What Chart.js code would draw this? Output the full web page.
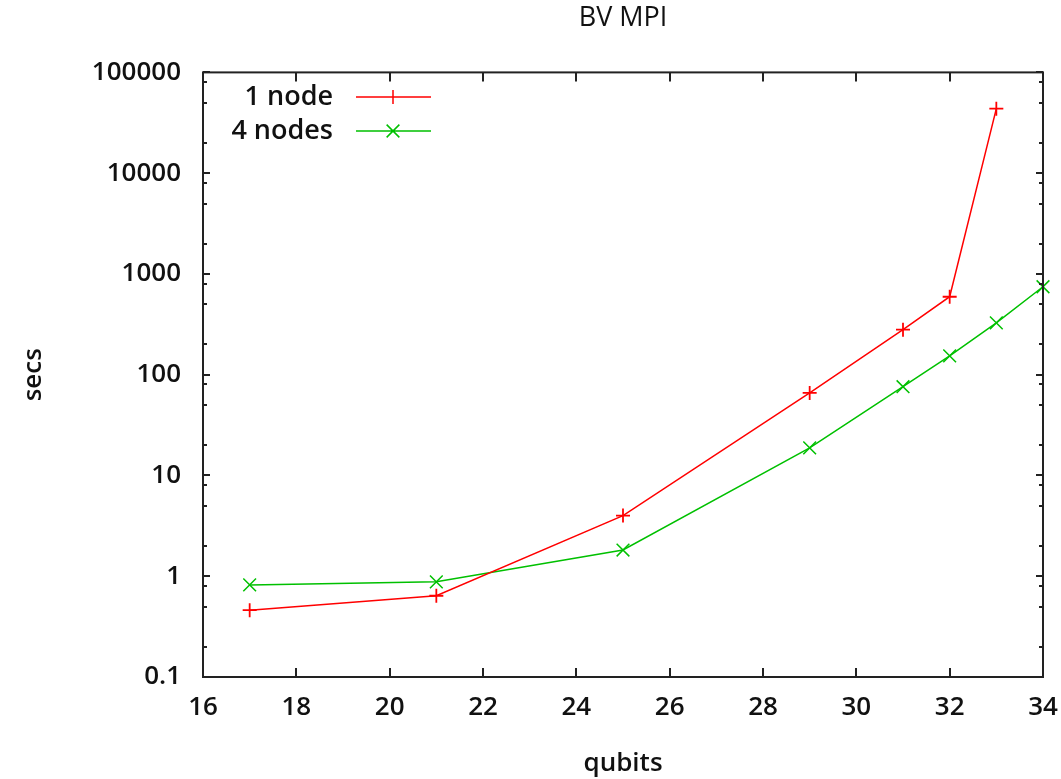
<!DOCTYPE html>
<html>
<head>
<meta charset="utf-8">
<script src="https://cdn.jsdelivr.net/npm/chart.js@4/dist/chart.umd.min.js"></script>
<style>
  html, body { margin: 0; padding: 0; background: #fff; }
  #wrap { width: 1061px; height: 779px; }
</style>
</head>
<body>
<div id="wrap"><canvas id="chart" width="1061" height="779"></canvas></div>
<script>
const qubits = [17, 21, 25, 29, 31, 32, 33, 34];
const oneNodeSecs = [0.46, 0.64, 4.0, 66, 280, 594, 43700];
const fourNodeSecs = [0.82, 0.88, 1.82, 18.8, 76, 154, 327, 746];
const seriesNames = ["1 node", "4 nodes"];
const xTicks = [16, 18, 20, 22, 24, 26, 28, 30, 32, 34];
const yTicks = [0.1, 1, 10, 100, 1000, 10000, 100000];
const yMinorSteps = [2, 5, 8];

const RED = "#ff0000";
const GREEN = "#00c000";
const INK = "#222";
const FONT = "'Open Sans', 'DejaVu Sans', sans-serif";

Chart.defaults.font.family = FONT;
Chart.defaults.color = "#111";

function points(ys) {
  return ys.map((v, i) => ({ x: qubits[i], y: v }));
}

// gnuplot-like border, mirrored inward ticks and key
const frame = {
  id: "frame",
  afterDraw(chart) {
    const { ctx, chartArea: a, scales: { x, y } } = chart;
    ctx.save();
    ctx.strokeStyle = INK;
    ctx.lineWidth = 2;
    ctx.beginPath();
    xTicks.forEach((v) => {
      const px = Math.round(x.getPixelForValue(v));
      ctx.moveTo(px, a.bottom); ctx.lineTo(px, a.bottom - 9);
      ctx.moveTo(px, a.top); ctx.lineTo(px, a.top + 9);
    });
    yTicks.forEach((d) => {
      const py = Math.round(y.getPixelForValue(d));
      ctx.moveTo(a.left, py); ctx.lineTo(a.left + 7, py);
      ctx.moveTo(a.right, py); ctx.lineTo(a.right - 7, py);
      yMinorSteps.forEach((m) => {
        const v = d * m;
        if (v > y.max) return;
        const pm = Math.round(y.getPixelForValue(v));
        ctx.moveTo(a.left, pm); ctx.lineTo(a.left + 4, pm);
        ctx.moveTo(a.right, pm); ctx.lineTo(a.right - 4, pm);
      });
    });
    ctx.stroke();
    ctx.strokeRect(a.left, a.top, a.width, a.height);

    // key
    ctx.font = "600 27px " + FONT;
    ctx.textAlign = "right";
    ctx.textBaseline = "alphabetic";
    chart.data.datasets.forEach((ds, i) => {
      const ly = 97 + i * 34;
      ctx.fillStyle = "#111";
      ctx.fillText(ds.label, 333, ly + 8);
      ctx.strokeStyle = ds.borderColor;
      ctx.lineWidth = 1.5;
      ctx.beginPath();
      ctx.moveTo(356, ly); ctx.lineTo(431, ly);
      const r = ds.pointRadius;
      if (ds.pointStyle === "cross") {
        ctx.moveTo(393 - r, ly); ctx.lineTo(393 + r, ly);
        ctx.moveTo(393, ly - r); ctx.lineTo(393, ly + r);
      } else {
        const o = r * Math.SQRT1_2;
        ctx.moveTo(393 - o, ly - o); ctx.lineTo(393 + o, ly + o);
        ctx.moveTo(393 - o, ly + o); ctx.lineTo(393 + o, ly - o);
      }
      ctx.stroke();
    });
    ctx.restore();
  }
};

new Chart(document.getElementById("chart"), {
  type: "line",
  data: {
    datasets: [
      {
        label: seriesNames[0],
        data: points(oneNodeSecs),
        borderColor: RED,
        backgroundColor: RED,
        borderWidth: 1.5,
        pointStyle: "cross",
        pointRadius: 7,
        pointBorderWidth: 1.8,
        clip: 12
      },
      {
        label: seriesNames[1],
        data: points(fourNodeSecs),
        borderColor: GREEN,
        backgroundColor: GREEN,
        borderWidth: 1.5,
        pointStyle: "crossRot",
        pointRadius: 9,
        pointBorderWidth: 1.5,
        clip: 12
      }
    ]
  },
  options: {
    responsive: false,
    animation: false,
    devicePixelRatio: 1,
    layout: { padding: { left: 0, right: 18, top: 0, bottom: 0 } },
    plugins: {
      legend: { display: false },
      tooltip: { enabled: false },
      title: {
        display: true,
        text: "BV MPI",
        fullSize: false,
        color: "#111",
        font: { size: 27, weight: "500" },
        padding: { top: 2, bottom: 38 }
      }
    },
    scales: {
      x: {
        type: "linear",
        min: 16,
        max: 34,
        grid: { display: false, drawTicks: false },
        border: { display: false },
        afterBuildTicks: (s) => { s.ticks = xTicks.map((v) => ({ value: v })); },
        afterFit: (s) => { s.height = 102; s.paddingLeft = 0; s.paddingRight = 0; },
        ticks: {
          padding: 15,
          color: "#111",
          font: { size: 26, weight: "600" },
          callback: (v) => String(v)
        },
        title: {
          display: true,
          text: "qubits",
          color: "#111",
          font: { size: 26, weight: "600" },
          padding: { top: 0, bottom: 0 }
        }
      },
      y: {
        type: "logarithmic",
        min: 0.1,
        max: 100000,
        grid: { display: false, drawTicks: false },
        border: { display: false },
        afterBuildTicks: (s) => { s.ticks = yTicks.map((v) => ({ value: v, major: true })); },
        afterFit: (s) => { s.width = 203; s.paddingTop = 0; s.paddingBottom = 0; },
        ticks: {
          padding: 22,
          color: "#111",
          font: { size: 26, weight: "600" },
          callback: (v) => String(v)
        },
        title: {
          display: true,
          text: "secs",
          color: "#111",
          font: { size: 26, weight: "600" },
          padding: { top: 18, bottom: 0 }
        }
      }
    }
  },
  plugins: [frame]
});
</script>
</body>
</html>
